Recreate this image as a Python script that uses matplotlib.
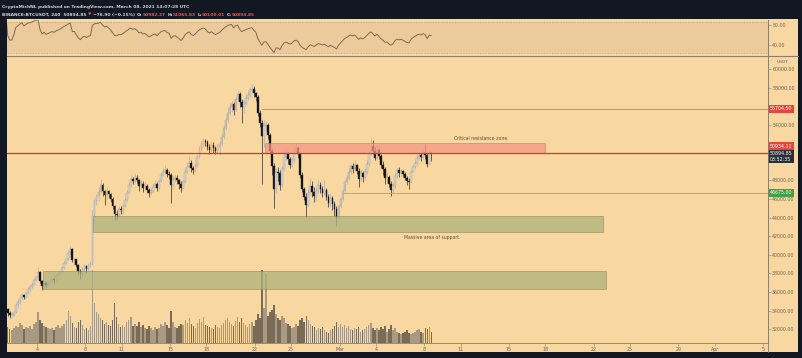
import numpy as np
import pandas as pd
import matplotlib
matplotlib.use("Agg")
import matplotlib.pyplot as plt
from matplotlib.patches import Rectangle
from matplotlib.lines import Line2D
from matplotlib.transforms import blended_transform_factory

# BTCUSDT 4h candles, Feb 01 00:00 UTC -> Mar 08 12:00 UTC (6 per day)
first_open = 33100
closes = [
    33400, 33900, 34200, 33700, 33500, 33500,
    33800, 34600, 34900, 35300, 35700, 35500,
    35900, 36300, 36500, 36800, 37300, 37600,
    38200, 37200, 36600, 37000, 36700, 36900,
    37200, 37400, 37300, 37700, 37900, 38200,
    38600, 39100, 39500, 40200, 40600, 39400,
    39500, 38900, 38300, 37900, 38500, 38800,
    38500, 38900, 39000, 44300, 45800, 46300,
    46800, 47500, 46900, 46400, 46900, 46500,
    46000, 45200, 44400, 44300, 44900, 44800,
    45300, 45900, 46700, 47500, 48200, 47900,
    48300, 48000, 47400, 47600, 47200, 47400,
    47000, 46600, 46900, 47300, 47600, 47200,
    47900, 48600, 48900, 49100, 48700, 48600,
    47500, 48100, 48300, 48000, 47600, 47200,
    47800, 48900, 49500, 49900, 49300, 49100,
    49600, 50500, 51400, 51900, 52300, 52100,
    51600, 51300, 51800, 51500, 51200, 51600,
    51900, 52700, 53600, 54500, 55300, 55900,
    56200, 55600, 56800, 57300, 56400, 55900,
    56300, 56900, 57200, 57700, 57900, 57400,
    57000, 55300, 54200, 52800, 53900, 54000,
    52900, 51200, 49600, 47100, 48900, 48800,
    47500, 49200, 50500, 50900, 50300, 49700,
    50200, 51200, 51500, 50800, 48600, 47100,
    46200, 45400, 46600, 47400, 46800, 46300,
    46900, 47500, 47100, 46700, 47000, 46200,
    45600, 46100, 45500, 44900, 44000, 45200,
    46000, 46900, 47800, 48300, 48900, 49600,
    49200, 49700, 49000, 48200, 48800, 48400,
    48900, 49800, 50800, 51700, 51200, 50400,
    51300, 50600, 49700, 49200, 48300, 48400,
    47600, 47000, 47400, 48500, 49100, 48800,
    49000, 48700, 48300, 47900, 47800, 48900,
    49500, 49900, 50400, 50700, 50500, 51000,
    50700, 49800, 50982, 50895,
]
highs = [
    33700, 34100, 34700, 34300, 33900, 33800,
    34000, 34800, 35200, 35500, 35900, 35800,
    36000, 36500, 36800, 37000, 37500, 37700,
    38700, 38300, 37300, 37300, 37200, 37200,
    37400, 37600, 37600, 37900, 38100, 38300,
    38800, 39300, 39700, 40400, 40950, 40700,
    39700, 39600, 39000, 38500, 38700, 39000,
    38900, 39100, 39300, 44800, 46100, 46500,
    47300, 48200, 47700, 47000, 47300, 47000,
    46700, 46200, 45400, 44800, 45200, 45300,
    45600, 46200, 47000, 47900, 48600, 48400,
    48800, 48600, 48200, 48000, 47900, 47800,
    47600, 47200, 47200, 47700, 48100, 47800,
    48100, 48900, 49300, 49700, 49300, 49000,
    48800, 48500, 48700, 48600, 48200, 47900,
    48100, 49300, 50000, 50600, 50200, 49600,
    49900, 50700, 51700, 52200, 52600, 52500,
    52400, 51900, 52200, 52100, 51700, 51900,
    52300, 53000, 54000, 54800, 55800, 56300,
    56600, 56500, 57100, 57700, 57500, 56800,
    56700, 57300, 57600, 58100, 58350, 58200,
    57500, 57200, 55600, 54500, 54500, 54400,
    54200, 53100, 51500, 49900, 49300, 49400,
    49100, 49600, 51000, 51400, 51100, 50500,
    50500, 51600, 52000, 51700, 50900, 48900,
    47300, 46700, 47100, 48300, 47900, 47300,
    47300, 48200, 47800, 47400, 48000, 47200,
    46500, 46600, 46300, 45800, 45200, 45500,
    46200, 47100, 48000, 48600, 49300, 49800,
    49900, 50200, 49800, 49300, 49200, 49000,
    49300, 50200, 51200, 52600, 52400, 51600,
    51800, 51500, 50800, 50100, 49400, 48900,
    48600, 47900, 47800, 48800, 49500, 49400,
    49200, 49100, 48900, 48500, 48300, 49100,
    49700, 50200, 50800, 51000, 51000, 51300,
    51900, 51100, 51300, 51066,
]
lows = [
    32300, 33200, 33800, 33400, 33200, 33200,
    33400, 33700, 34400, 34700, 35100, 35200,
    35400, 35800, 36100, 36400, 36700, 37200,
    37500, 37000, 36200, 36400, 36400, 36600,
    36800, 37000, 37000, 37200, 37600, 37800,
    38100, 38500, 39000, 39400, 40000, 39200,
    39000, 38700, 37900, 37350, 37700, 38300,
    38000, 38300, 38700, 38900, 43700, 45400,
    45800, 46600, 46300, 45400, 46000, 46100,
    45700, 44900, 43700, 43800, 44100, 44400,
    44400, 45100, 45700, 46600, 47300, 47600,
    47700, 47700, 46900, 47100, 46800, 47000,
    46600, 46200, 46400, 46800, 47200, 46900,
    47000, 47800, 48500, 48700, 48400, 48200,
    45600, 47100, 47800, 47600, 47100, 46800,
    47100, 47700, 48800, 49400, 48900, 48700,
    48900, 49500, 50400, 51200, 51600, 51700,
    51300, 50900, 51100, 51000, 50900, 51000,
    50700, 51700, 52500, 53400, 54200, 55000,
    55400, 55100, 55500, 56600, 55900, 54200,
    55300, 56100, 56700, 57000, 57400, 57000,
    56600, 54900, 53800, 47600, 51600, 53300,
    52500, 50800, 48600, 45000, 46600, 47900,
    47000, 47300, 49000, 50200, 49800, 49300,
    49400, 50000, 51000, 50400, 48300, 46800,
    45900, 44100, 45100, 46300, 46200, 45700,
    45800, 46600, 46700, 46200, 46400, 45900,
    45100, 45300, 44800, 44200, 43100, 43800,
    45000, 45800, 46800, 47600, 48100, 48700,
    48800, 49000, 48700, 47300, 47900, 47800,
    48100, 48700, 49600, 50600, 50900, 50200,
    50300, 50300, 49300, 48600, 47600, 47800,
    47300, 46300, 46700, 47200, 48300, 48400,
    48500, 48400, 48000, 47500, 47100, 47700,
    48900, 49300, 49700, 50200, 50100, 50300,
    50300, 49500, 49700, 50100,
]
# volume, thousand BTC per candle
volumes = [
    16, 14, 18, 15, 13, 12,
    14, 16, 15, 19, 17, 13,
    15, 14, 16, 13, 18, 20,
    30, 22, 19, 16, 15, 14,
    13, 14, 12, 15, 17, 14,
    16, 18, 22, 31, 26, 19,
    15, 14, 20, 22, 17, 13,
    14, 12, 16, 70, 38, 30,
    28, 24, 22, 18, 20, 17,
    16, 22, 38, 25, 18, 15,
    17, 15, 20, 22, 25, 16,
    18, 16, 20, 15, 17, 14,
    13, 16, 14, 12, 15, 13,
    14, 18, 16, 20, 17, 14,
    31, 20, 15, 14, 16, 18,
    17, 22, 19, 24, 18, 16,
    14, 19, 23, 20, 25, 17,
    16, 15, 14, 13, 17, 15,
    14, 17, 19, 22, 24, 20,
    18, 16, 21, 25, 20, 24,
    19, 17, 15, 18, 20, 16,
    22, 28, 24, 70, 34, 66,
    26, 30, 32, 36, 28, 24,
    22, 26, 24, 19, 18, 16,
    14, 15, 18, 16, 22, 24,
    20, 26, 22, 18, 16, 15,
    12, 14, 13, 15, 12, 11,
    10, 12, 13, 16, 20, 15,
    18, 15, 17, 14, 16, 13,
    12, 14, 13, 15, 11, 12,
    13, 15, 17, 19, 14, 12,
    14, 12, 15, 13, 16, 11,
    13, 17, 12, 14, 11, 10,
    9, 10, 11, 12, 10, 9,
    10, 11, 12, 13, 11, 10,
    14, 13, 15, 11,
]

# x axis: days since Feb 01 00:00 UTC
x_ticks = [3, 7, 10, 14, 17, 21, 24, 28, 31, 35, 38, 42, 45, 49, 52, 56, 59, 63]
x_labels = ["4", "8", "11", "15", "18", "22", "25", "Mar", "4", "8", "11",
            "15", "18", "22", "25", "29", "Apr", "5"]
price_ticks = list(range(32000, 60001, 2000))
hidden_ticks = [50000, 52000, 56000]   # covered by the price tags
rsi_ticks = [40, 80]

# drawings
resistance_price = 50934.11
upper_price = 55704.50
support_price = 46675.00
last_price = 50894.85
countdown = "03:52:35"
upper_start = 21.6
support_start = 28.3
resistance_zone = (21.84, 45.0, 50930, 52000)
support_zones = [(7.6, 49.8, 42450, 44180), (3.47, 50.0, 36290, 38290)]
notes = [(37.5, 52470, "Critical resistance zone."),
         (33.3, 41900, "Massive area of support.")]

title_1 = "CryptoMichNL published on TradingView.com, March 08, 2021 14:07:28 UTC"
title_2 = [("BINANCE:BTCUSDT, 240  50894.85", 0, True), ("\u25bc", 1, True),
           ("\u221276.90 (\u22120.15%)", 0, True), ("O:", 0, False), ("50982.37", 1, True),
           ("H:", 0, False), ("51065.83", 1, True), ("L:", 0, False), ("50100.01", 1, True),
           ("C:", 0, False), ("50894.85", 1, True)]

W, H = 803, 358
BG_DARK = "#131722"
PANEL = "#f9d7a1"
BAND = "#ebcb9b"
AXIS_TXT = "#6d6354"
AXIS_LINE = "#8c7e6a"
RED = "#ef5350"
plt.rcParams["font.family"] = ["DejaVu Sans"]

n = len(closes)
opens = np.array([first_open] + closes[:-1], dtype=float)
c = np.array(closes, dtype=float)
hi = np.array(highs, dtype=float)
lo = np.array(lows, dtype=float)
t = np.arange(n) / 6 + 1 / 12
up = c >= opens

s = pd.Series(c)
d = s.diff()
gain = d.clip(lower=0).ewm(alpha=1 / 14, adjust=True).mean()
loss = (-d).clip(lower=0).ewm(alpha=1 / 14, adjust=True).mean()
rsi = 100 - 100 / (1 + gain / loss)

fig = plt.figure(figsize=(W / 100, H / 100), dpi=100)
fig.patch.set_facecolor(BG_DARK)


def fx(px):
    return px / W


def fy(py):
    return (H - py) / H


fig.patches.append(Rectangle((fx(7), fy(352)), fx(791), 333 / H, transform=fig.transFigure,
                             facecolor=PANEL, edgecolor="none", zorder=-5))

xlim = (0.521, 63.41)

# volume pane (behind)
vax = fig.add_axes([fx(7), fy(343), fx(761), 287 / H])
vax.set_zorder(1)
vax.patch.set_visible(False)
vcol = np.where(up, "#a89a82", "#7a6b56")
vax.bar(t, volumes, width=0.12, color=vcol, linewidth=0)
vax.set_xlim(*xlim)
vax.set_ylim(0, 275)
vax.axis("off")

# main price pane
ax = fig.add_axes([fx(7), fy(343), fx(761), 287 / H])
ax.set_zorder(2)
ax.patch.set_visible(False)
ax.set_xlim(*xlim)
ax.set_ylim(30506, 61399)

for (x0, x1, y0, y1) in support_zones:
    ax.add_patch(Rectangle((x0, y0), x1 - x0, y1 - y0, facecolor="#aeb27b", alpha=0.75,
                           edgecolor="#8a864f", linewidth=0.5, zorder=4))
x0, x1, y0, y1 = resistance_zone
ax.add_patch(Rectangle((x0, y0), x1 - x0, y1 - y0, facecolor="#f49783", alpha=0.75,
                       edgecolor="#e0664f", linewidth=0.5, zorder=4))

ax.axhline(resistance_price, color="#ee2e24", linewidth=0.9, zorder=5)
ax.hlines(upper_price, upper_start, xlim[1], color="#f27866", linewidth=0.7, zorder=5)
ax.hlines(support_price, support_start, xlim[1], color="#8fbf6a", linewidth=0.7, zorder=5)

wick_col = np.where(up, "#a8a8a8", "#151515")
ax.vlines(t, lo, hi, colors=wick_col, linewidths=0.45, zorder=3)
body_bot = np.minimum(opens, c)
body_h = np.maximum(np.abs(c - opens), 40)
ax.bar(t, body_h, bottom=body_bot, width=0.14,
       color=np.where(up, "#d2d2d2", "#151515"),
       edgecolor=np.where(up, "#999999", "#151515"), linewidth=0.25, zorder=3)

for (nx, ny, txt) in notes:
    ax.text(nx, ny, txt, fontsize=3.3, color="#5a4f40", va="center", ha="left", zorder=6)

ax.yaxis.tick_right()
ax.set_yticks(price_ticks)
ax.set_yticklabels(["" if p in hidden_ticks else f"{p:.2f}" for p in price_ticks])
ax.set_xticks(x_ticks)
ax.set_xticklabels(x_labels)
ax.tick_params(axis="both", labelsize=3.4, colors=AXIS_LINE, labelcolor=AXIS_TXT,
               length=2, width=0.4, pad=1)
for side in ("top", "left"):
    ax.spines[side].set_visible(False)
for side in ("right", "bottom"):
    ax.spines[side].set_color(AXIS_LINE)
    ax.spines[side].set_linewidth(0.6)

# price labels on the axis
bt = blended_transform_factory(ax.transAxes, ax.transData)


def tag(price, text, fc, dy=0):
    ax.annotate(text, xy=(1, price), xycoords=bt, xytext=(2, dy), textcoords="offset pixels",
                fontsize=3.4, color="white", va="center", ha="left", annotation_clip=False,
                zorder=10, linespacing=1.1,
                bbox=dict(boxstyle="square,pad=0.35", fc=fc, ec="none"))


tag(upper_price, f"{upper_price:.2f}", "#e8453c")
tag(resistance_price, f"{resistance_price:.2f}", "#e8453c", dy=7)
tag(last_price, f"{last_price:.2f}\n{countdown}", "#2a2e39", dy=-3)
tag(support_price, f"{support_price:.2f}", "#43a047")
fig.text(fx(783), fy(62), "USDT", fontsize=3.2, color=AXIS_TXT, ha="center", va="center")

# RSI pane
rax = fig.add_axes([fx(7), fy(55.5), fx(761), 36 / H])
rax.set_zorder(1)
rax.set_xlim(*xlim)
rax.set_ylim(19, 91)
rax.patch.set_facecolor(PANEL)
rax.axhspan(24, 87, color=BAND, linewidth=0, zorder=1)
rax.axhline(87, color="#b89b70", linewidth=0.4, linestyle=(0, (3, 2)), zorder=2)
rax.axhline(24, color="#b89b70", linewidth=0.4, linestyle=(0, (3, 2)), zorder=2)
rax.plot(t, rsi, color="#76634a", linewidth=0.65, zorder=3)
rax.yaxis.tick_right()
rax.set_yticks(rsi_ticks)
rax.set_yticklabels([f"{v:.2f}" for v in rsi_ticks])
rax.set_xticks([])
rax.tick_params(axis="y", labelsize=3.4, colors=AXIS_LINE, labelcolor=AXIS_TXT,
                length=2, width=0.4, pad=1)
for side in ("top", "left", "bottom"):
    rax.spines[side].set_visible(False)
rax.spines["right"].set_color(AXIS_LINE)
rax.spines["right"].set_linewidth(0.6)

# frame lines
fig.lines.append(Line2D([fx(7), fx(798)], [fy(55.7), fy(55.7)], transform=fig.transFigure,
                        color=AXIS_LINE, linewidth=0.8))
fig.lines.append(Line2D([fx(768), fx(768)], [fy(19.5), fy(352)], transform=fig.transFigure,
                        color=AXIS_LINE, linewidth=0.6))

# header
fig.text(fx(2), fy(6.7), title_1, fontsize=3.2, color="#d1d4dc", va="center", ha="left",
         fontweight="bold")
renderer = fig.canvas.get_renderer()
xpos = fx(2)
for txt, is_red, gap in title_2:
    tt = fig.text(xpos, fy(15), txt, fontsize=3.2, color=RED if is_red else "#d1d4dc",
                  va="center", ha="left", fontweight="bold")
    xpos += tt.get_window_extent(renderer).width / W + (fx(1.8) if gap else 0)

fig.savefig("out.png", dpi=100, facecolor=fig.get_facecolor())
